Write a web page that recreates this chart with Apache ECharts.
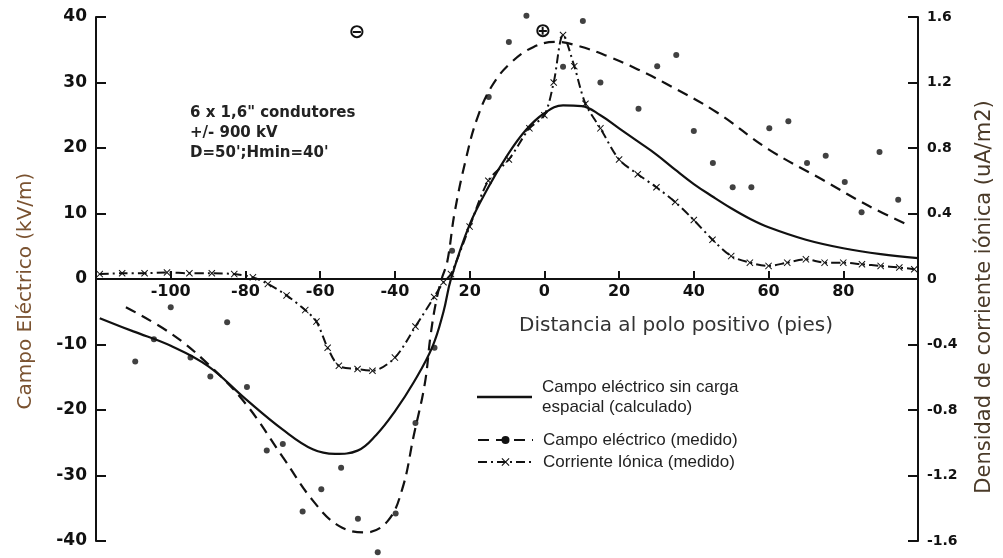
<!DOCTYPE html>
<html><head><meta charset="utf-8">
<script src="https://cdn.jsdelivr.net/npm/echarts@6/dist/echarts.min.js"></script>
<style>html,body{margin:0;padding:0;background:#fff}#c{width:1003px;height:558px}</style>
</head><body><div id="c"></div>
<script>
// Tick labels of the distance axis (as printed in the reference)
const xTickValues = [-100, -80, -60, -40, -20, 0, 20, 40, 60, 80];
const xTickLabels = ['-100', '-80', '-60', '-40', '20', '0', '20', '40', '60', '80'];

// Calculated electric field without space charge (kV/m)
const calcField = [[-119,-6],[-110,-8],[-100,-10.2],[-90,-13.3],[-80,-18.3],[-70,-23],[-62,-26],[-56,-26.7],[-50,-26.2],[-45,-23.8],[-40,-20.2],[-35,-15.8],[-30,-10.4],[-27,-5],[-25,0],[-20,8.3],[-15,14],[-10,18.8],[-5,22.7],[0,25.3],[5,26.5],[10,26.4],[15,25],[20,23],[25,21],[30,19],[35,16.7],[40,14.5],[45,12.6],[50,10.8],[55,9.2],[60,7.9],[70,6],[80,4.7],[90,3.8],[100,3.2]];

// Measured electric field, fitted dashed curve (kV/m)
const measFit = [[-112,-4.3],[-100,-8.3],[-90,-13],[-80,-19],[-70,-27.2],[-62,-33.8],[-55,-37.7],[-48,-38.7],[-42,-37],[-38,-32],[-35,-24],[-32,-16],[-30.5,-8.8],[-29,-3.5],[-27.5,0],[-26,2.6],[-24,10.2],[-21,18.3],[-18,24.5],[-14,29.5],[-9,33],[-3,35.4],[3,36.2],[9,35.6],[17,34],[25,32],[32,30],[46,25.5],[60,19.8],[74,15.3],[87,11.1],[98,8.1]];

// Measured electric field, individual points (kV/m)
const measDots = [[-109.5,-12.6],[-104.5,-9.2],[-100,-4.3],[-94.7,-12],[-89.4,-14.9],[-84.9,-6.6],[-79.6,-16.5],[-74.3,-26.2],[-70,-25.2],[-64.7,-35.5],[-59.7,-32.1],[-54.4,-28.8],[-49.9,-36.6],[-44.6,-41.7],[-39.8,-35.8],[-34.5,-22],[-29.4,-10.5],[-24.7,4.3],[-14.9,27.8],[-9.5,36.2],[-4.8,40.2],[5,32.4],[10.3,39.4],[15,30],[25.2,26],[30.2,32.5],[35.3,34.2],[40,22.6],[45.1,17.7],[50.4,14],[55.4,14],[60.2,23],[65.3,24.1],[70.3,17.7],[75.3,18.8],[80.4,14.8],[84.9,10.2],[89.7,19.4],[94.7,12.1]];

// Measured ionic current density (uA/m2)
const ionicCurrent = [[-119,0.03],[-113,0.035],[-107,0.035],[-101,0.04],[-95,0.035],[-89,0.035],[-83,0.03],[-78,0.01],[-74,-0.03],[-69,-0.10],[-64,-0.19],[-61,-0.26],[-58,-0.42],[-55,-0.53],[-50,-0.55],[-46,-0.56],[-40,-0.48],[-34.5,-0.29],[-29.5,-0.11],[-27,-0.02],[-25,0.03],[-20,0.32],[-15,0.6],[-9.5,0.73],[-4,0.92],[0,1.0],[2.5,1.2],[5,1.49],[8,1.3],[11,1.07],[15,0.92],[20,0.73],[25,0.64],[30,0.56],[35,0.47],[40,0.36],[45,0.24],[50,0.14],[55,0.1],[60,0.08],[65,0.1],[70,0.12],[75,0.1],[80,0.1],[85,0.09],[90,0.08],[95,0.07],[99,0.06]];

const legendNames = ['Campo eléctrico sin carga\nespacial (calculado)', 'Campo eléctrico (medido)', 'Corriente Iónica (medido)'];
const annotationLines = ['6 x 1,6" condutores', '+/- 900 kV', "D=50';Hmin=40'"];
const poleLabels = ['⊖', '⊕'];

const chart = echarts.init(document.getElementById('c'));
const xMark = 'path://M0,1L1,0L5,4L9,0L10,1L6,5L10,9L9,10L5,6L1,10L0,9L4,5Z';
const ink = '#111';

chart.setOption({
  animation: false,
  grid: { left: 96, right: 85, top: 17, bottom: 17, containLabel: false, outerBoundsMode: 'none' },
  xAxis: {
    type: 'value', min: -120, max: 100, interval: 20, offset: -262,
    axisLine: { onZero: false, lineStyle: { color: ink, width: 2 } },
    axisTick: { inside: true, length: 8, lineStyle: { color: ink, width: 2 } },
    splitLine: { show: false },
    axisLabel: {
      formatter: v => { const i = xTickValues.indexOf(Math.round(v)); return i >= 0 ? xTickLabels[i] : ''; },
      fontFamily: 'DejaVu Sans', fontWeight: 'bold', fontSize: 16, color: ink, margin: 5
    },
    name: 'Distancia al polo positivo (pies)', nameLocation: 'middle', nameGap: 37,
    nameTextStyle: { fontFamily: 'DejaVu Sans', fontSize: 20, color: '#333', padding: [0, 0, 0, 338] }
  },
  yAxis: [{
    type: 'value', min: -40, max: 40, interval: 10, position: 'left',
    axisLine: { show: true, onZero: false, lineStyle: { color: ink, width: 2 } },
    axisTick: { show: true, inside: true, length: 10, lineStyle: { color: ink, width: 2 } },
    splitLine: { show: false },
    axisLabel: { fontFamily: 'DejaVu Sans', fontWeight: 'bold', fontSize: 17, color: ink, margin: 9 },
    name: 'Campo Eléctrico (kV/m)', nameLocation: 'middle', nameGap: 60,
    nameTextStyle: { fontFamily: 'DejaVu Sans', fontSize: 20, color: '#7a5230', padding: [0, 24, 0, 0] }
  }, {
    type: 'value', min: -1.6, max: 1.6, interval: 0.4, position: 'right',
    axisLine: { show: true, onZero: false, lineStyle: { color: ink, width: 2 } },
    axisTick: { show: true, inside: true, length: 10, lineStyle: { color: ink, width: 2 } },
    splitLine: { show: false },
    axisLabel: {
      formatter: v => Math.abs(v) < 1e-9 ? '0' : (Math.round(v * 10) / 10).toFixed(1),
      fontFamily: 'DejaVu Sans', fontWeight: 'bold', fontSize: 14, color: ink, margin: 9
    },
    name: 'Densidad de corriente iónica (uA/m2)', nameLocation: 'middle', nameGap: 56,
    nameTextStyle: { fontFamily: 'DejaVu Sans', fontSize: 21, color: '#4a3a28', padding: [0, 36, 0, 0] }
  }],
  legend: [{
    orient: 'vertical', left: 472, top: 372, itemWidth: 55, itemHeight: 2.5, itemGap: 2,
    data: [{ name: legendNames[0], icon: 'rect' }], selectedMode: false,
    textStyle: { fontFamily: 'Liberation Sans', fontSize: 17, color: '#222', lineHeight: 20, padding: [0, 0, 0, 5] }
  }, {
    orient: 'vertical', left: 472, top: 425, itemWidth: 55, itemHeight: 10, itemGap: 2,
    data: [legendNames[1], legendNames[2]], selectedMode: false,
    textStyle: { fontFamily: 'Liberation Sans', fontSize: 17, color: '#222', lineHeight: 20, padding: [0, 0, 0, 5] }
  }],
  graphic: [
    { type: 'text', left: 190, top: 103, style: { text: annotationLines.join('\n'), font: 'bold 15px "DejaVu Sans"', lineHeight: 20, fill: '#222' } },
    { type: 'text', x: 357, y: 33, style: { text: poleLabels[0], font: 'bold 20px "DejaVu Sans"', align: 'center', verticalAlign: 'middle', fill: ink } },
    { type: 'text', x: 543, y: 32, style: { text: poleLabels[1], font: 'bold 20px "DejaVu Sans"', align: 'center', verticalAlign: 'middle', fill: ink } }
  ],
  series: [{
    name: legendNames[0], type: 'line', data: calcField, smooth: 0.4, symbol: 'none',
    lineStyle: { color: ink, width: 2.2 }, itemStyle: { color: ink }, z: 3
  }, {
    name: legendNames[1], type: 'line', data: measFit, smooth: 0.4, symbol: 'circle', showSymbol: false, symbolSize: 6,
    lineStyle: { color: ink, width: 2.2, type: [11, 7] }, itemStyle: { color: ink }, z: 3
  }, {
    name: 'puntos', type: 'scatter', data: measDots, symbol: 'circle', symbolSize: 6, clip: false,
    itemStyle: { color: ink }, z: 4
  }, {
    name: legendNames[2], type: 'line', yAxisIndex: 1, data: ionicCurrent, smooth: 0.3,
    symbol: xMark, symbolSize: 7, showAllSymbol: true,
    lineStyle: { color: ink, width: 2, type: [9, 4, 2, 4] }, itemStyle: { color: ink }, z: 3
  }]
});
</script></body></html>
